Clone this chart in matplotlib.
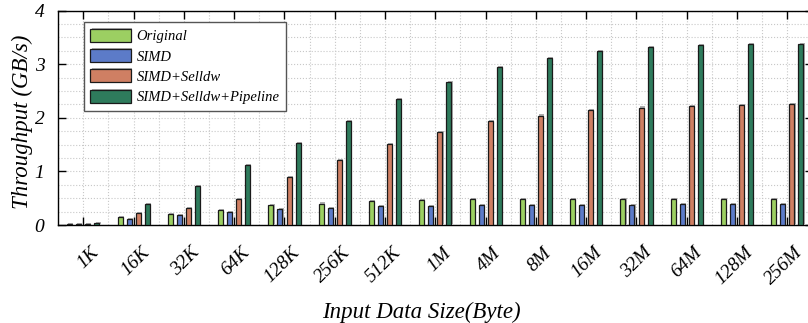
import numpy as np
import matplotlib
matplotlib.use("Agg")
import matplotlib.pyplot as plt
import matplotlib.patheffects as pe
from matplotlib.ticker import MultipleLocator, FixedLocator
from matplotlib.transforms import ScaledTranslation

plt.rcParams['font.family'] = ['Liberation Serif', 'DejaVu Serif']
plt.rcParams['font.style'] = 'italic'

sizes = ['1K', '16K', '32K', '64K', '128K', '256K', '512K', '1M', '4M', '8M',
         '16M', '32M', '64M', '128M', '256M']
series_names = ['Original', 'SIMD', 'SIMD+Selldw', 'SIMD+Selldw+Pipeline']
original = [0.02, 0.15, 0.20, 0.28, 0.37, 0.40, 0.45, 0.46, 0.48, 0.485,
            0.485, 0.485, 0.485, 0.485, 0.485]
simd = [0.02, 0.11, 0.19, 0.24, 0.29, 0.32, 0.35, 0.36, 0.37, 0.37,
        0.38, 0.38, 0.385, 0.385, 0.385]
simd_selldw = [0.02, 0.22, 0.31, 0.49, 0.90, 1.21, 1.51, 1.73, 1.94, 2.04,
               2.14, 2.19, 2.22, 2.24, 2.25]
simd_selldw_pipeline = [0.04, 0.39, 0.73, 1.12, 1.53, 1.94, 2.35, 2.67, 2.94, 3.11,
                        3.25, 3.32, 3.36, 3.37, 3.38]
colors = ['#9CCF62', '#5C7BC8', '#CF7F63', '#2E7B5C']

fig = plt.figure(figsize=(8.08, 3.23), dpi=100)
ax = fig.add_axes([58.2 / 808, 1 - 225 / 323, (812.5 - 58.2) / 808, (225 - 10.5) / 323])

x = np.arange(len(sizes))
offsets = [-0.27, -0.09, 0.09, 0.27]
width = 0.1
shadow = [pe.SimplePatchShadow(offset=(0.8, 0.8), shadow_rgbFace='#9a9a9a', alpha=0.8),
          pe.Normal()]
for vals, name, c, off in zip([original, simd, simd_selldw, simd_selldw_pipeline],
                              series_names, colors, offsets):
    bars = ax.bar(x + off, vals, width, color=c, edgecolor='#1a1a1a',
                  linewidth=0.9, label=name, zorder=3)
    for b in bars:
        b.set_path_effects(shadow)

ax.set_xlim(-0.5, len(sizes) - 0.5)
ax.set_ylim(0, 4)
ax.yaxis.set_major_locator(MultipleLocator(1))
ax.yaxis.set_minor_locator(MultipleLocator(0.25))
ax.set_xticks(x)
ax.xaxis.set_minor_locator(FixedLocator(np.arange(-0.5, len(sizes), 1.0)))
ax.set_xticklabels(sizes, rotation=45, ha='right', va='center',
                   rotation_mode='anchor', fontsize=14)
ax.tick_params(axis='both', which='major', direction='in', length=6, width=1,
               top=True, right=True, labelsize=14, zorder=5)
ax.tick_params(axis='x', which='major', pad=18)
ax.tick_params(axis='y', which='major', pad=10)
ax.tick_params(which='minor', length=0)
ax.grid(True, which='both', linestyle=':', color='#c8c8c8', linewidth=0.8, zorder=0)
ax.set_axisbelow(True)
for s in ax.spines.values():
    s.set_linewidth(1)

# shift the rotated size labels so their upper ends sit right of each tick
offset = ScaledTranslation(13 / 100, 0, fig.dpi_scale_trans)
for t in ax.xaxis.get_major_ticks():
    t.label1.set_transform(t.label1.get_transform() + offset)

ax.set_ylabel('Throughput (GB/s)', fontsize=16.5)
ax.set_xlabel('Input Data Size(Byte)', fontsize=16.5)
ax.yaxis.set_label_coords(-0.0334, 0.48)
ax.xaxis.set_label_coords(0.481, -0.36)

leg = ax.legend(loc='upper left', bbox_to_anchor=(0.034, 0.946), fontsize=10.5,
                fancybox=False, edgecolor='#555555', framealpha=1,
                handlelength=2.8, handleheight=1.0, labelspacing=0.4,
                handletextpad=0.35, borderpad=0.45, borderaxespad=0)
leg.get_frame().set_linewidth(1)
leg.set_zorder(6)

fig.savefig('out.png', dpi=100)
